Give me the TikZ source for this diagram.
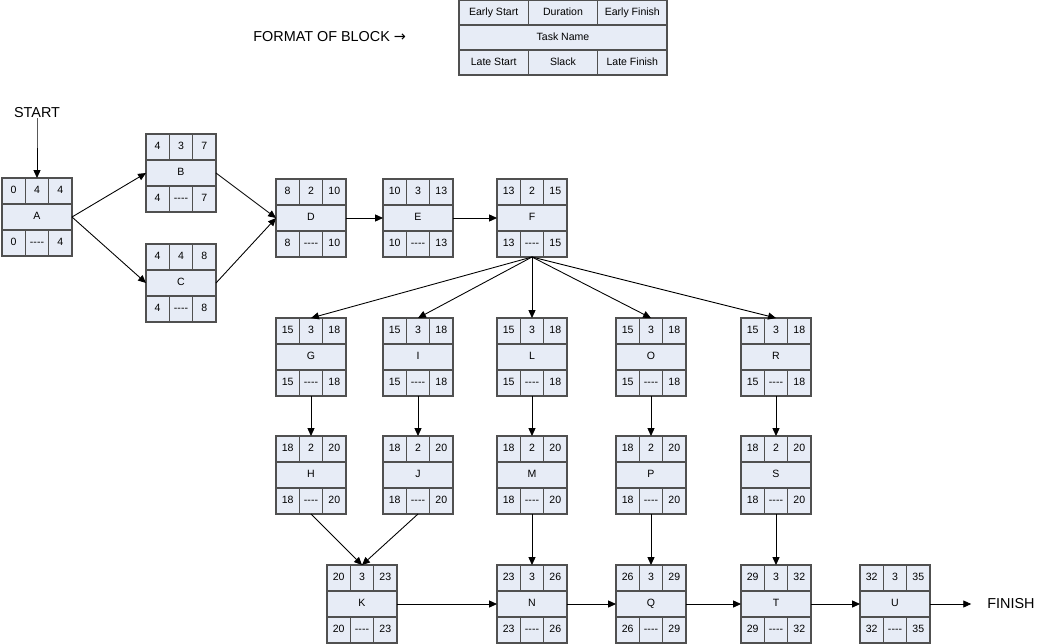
\documentclass[tikz,border=0pt]{standalone}
\usepackage{fontspec}
\setmainfont{Liberation Sans}
\newfontfamily\symfont{DejaVu Sans}
\usetikzlibrary{arrows.meta, positioning}
\definecolor{cellfill}{RGB}{231, 236, 246}
\definecolor{cellborder}{RGB}{80, 80, 80}

% slack placeholder, no dash ligatures
\newcommand{\noslack}{{-}{-}{-}{-}}

% task block: name, position, ES, duration, EF, LS, LF
\newcommand{\taskblock}[7]{%
  \node[namecell] (#1) at (#2) {#1};
  \node[cell, above=0pt of #1]    (#1dur) {#4};
  \node[cell, left=0pt of #1dur]  (#1es)  {#3};
  \node[cell, right=0pt of #1dur] (#1ef)  {#5};
  \node[cell, below=0pt of #1]    (#1sl)  {\noslack};
  \node[cell, left=0pt of #1sl]   (#1ls)  {#6};
  \node[cell, right=0pt of #1sl]  (#1lf)  {#7};
}

\begin{document}
\begin{tikzpicture}[
    x=0.02cm, y=-0.02cm,
    font=\fontsize{6}{7}\selectfont,
    cell/.style={rectangle, draw=cellborder, fill=cellfill, line width=0.8pt,
                 minimum width=0.4667cm, minimum height=0.52cm,
                 text height=4.4pt, text depth=1.2pt,
                 inner sep=0pt, outer sep=0pt},
    namecell/.style={cell, minimum width=1.4cm},
    fmtcell/.style={cell, minimum width=1.387cm, minimum height=0.5cm},
    fmtname/.style={fmtcell, minimum width=4.16cm},
    arr/.style={-{Triangle[length=4.5pt, width=4pt]}, line width=0.5pt, black},
    bigtext/.style={font=\fontsize{8.2}{10}\selectfont, inner sep=0pt}
]
\useasboundingbox (0,0) rectangle (1038,643);

% =========== format legend ===========
\node[bigtext, anchor=west] (fmtlabel) at (253,37) {FORMAT OF BLOCK {\symfont →}};
\node[fmtname] (fmt) at (563,37.5) {Task Name};
\node[fmtcell, above=0pt of fmt]    (fmtdur) {Duration};
\node[fmtcell, left=0pt of fmtdur]  (fmtes)  {Early Start};
\node[fmtcell, right=0pt of fmtdur] (fmtef)  {Early Finish};
\node[fmtcell, below=0pt of fmt]    (fmtsl)  {Slack};
\node[fmtcell, left=0pt of fmtsl]   (fmtls)  {Late Start};
\node[fmtcell, right=0pt of fmtsl]  (fmtlf)  {Late Finish};

% =========== task blocks ===========
\taskblock{A}{37,217}{0}{4}{4}{0}{4}
\taskblock{B}{181,173}{4}{3}{7}{4}{7}
\taskblock{C}{181,283}{4}{4}{8}{4}{8}
\taskblock{D}{311,218}{8}{2}{10}{8}{10}
\taskblock{E}{418,218}{10}{3}{13}{10}{13}
\taskblock{F}{532,218}{13}{2}{15}{13}{15}

\taskblock{G}{311,357}{15}{3}{18}{15}{18}
\taskblock{I}{418,357}{15}{3}{18}{15}{18}
\taskblock{L}{532,357}{15}{3}{18}{15}{18}
\taskblock{O}{651,357}{15}{3}{18}{15}{18}
\taskblock{R}{776,357}{15}{3}{18}{15}{18}

\taskblock{H}{311,475}{18}{2}{20}{18}{20}
\taskblock{J}{418,475}{18}{2}{20}{18}{20}
\taskblock{M}{532,475}{18}{2}{20}{18}{20}
\taskblock{P}{651,475}{18}{2}{20}{18}{20}
\taskblock{S}{776,475}{18}{2}{20}{18}{20}

\taskblock{K}{362,604}{20}{3}{23}{20}{23}
\taskblock{N}{532,604}{23}{3}{26}{23}{26}
\taskblock{Q}{651,604}{26}{3}{29}{26}{29}
\taskblock{T}{776,604}{29}{3}{32}{29}{32}
\taskblock{U}{895,604}{32}{3}{35}{32}{35}

\node[bigtext] (start) at (37,113) {START};
\node[bigtext, anchor=west] (finish) at (987,604) {FINISH};

% =========== connectors ===========
\draw[arr] (start.south) -- ++(0,8) -- (Adur.north);
\draw[arr] (A.east) -- (B.west);
\draw[arr] (A.east) -- (C.west);
\draw[arr] (B.east) -- (D.west);
\draw[arr] (C.east) -- (D.west);
\draw[arr] (D.east) -- (E.west);
\draw[arr] (E.east) -- (F.west);
\foreach \t in {G,I,L,O,R}
  \draw[arr] (Fsl.south) -- (\t dur.north);
\foreach \a/\b in {G/H, I/J, L/M, O/P, R/S, M/N, P/Q, S/T}
  \draw[arr] (\a sl.south) -- (\b dur.north);
\draw[arr] (Hsl.south) -- (Kdur.north);
\draw[arr] (Jsl.south) -- (Kdur.north);
\foreach \a/\b in {K/N, N/Q, Q/T, T/U}
  \draw[arr] (\a.east) -- (\b.west);
\draw[arr, shorten >=9pt] (U.east) -- (finish.west);

\end{tikzpicture}
\end{document}
